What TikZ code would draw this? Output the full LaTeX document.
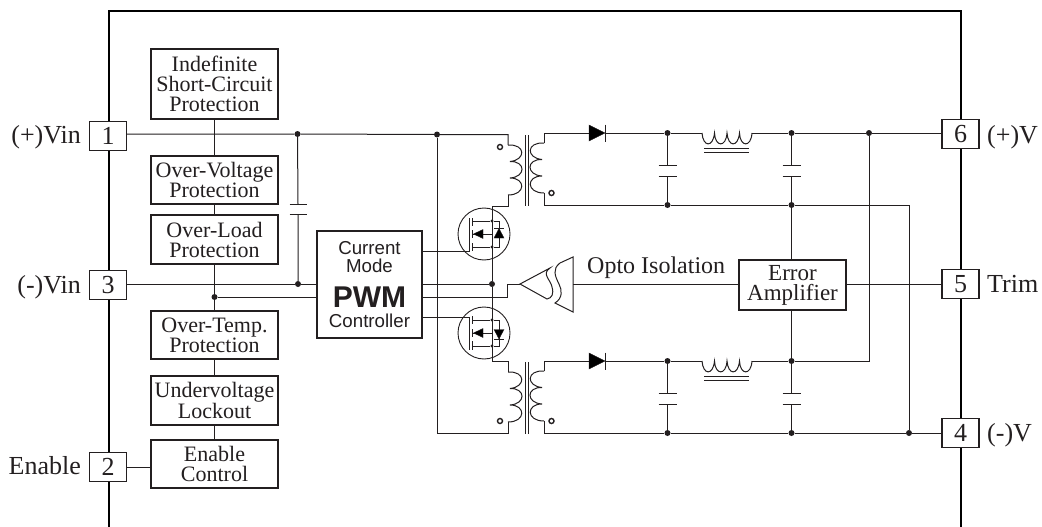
\documentclass[tikz,border=0pt]{standalone}
\usepackage{fontspec}
\setmainfont{Liberation Serif}
\newfontfamily\arialf{Liberation Sans}
\usetikzlibrary{calc}
\definecolor{ink}{HTML}{231F20}
\newcommand{\lbl}{\fontsize{22}{20}\selectfont}
\newcommand{\pinf}{\fontsize{26}{26}\selectfont}
\newcommand{\ctlf}{\arialf\fontsize{18.7}{18}\selectfont}
% three-lobed winding: x, top y, direction
\newcommand{\coilthree}[3]{%
 \draw[wire] (#1,#2) .. controls ({#1+#3*18},{#2-1}) and ({#1+#3*18},{#2+15}) .. ({#1+#3*2},{#2+16.5})
  .. controls ({#1+#3*18},{#2+16}) and ({#1+#3*18},{#2+32}) .. ({#1+#3*2},{#2+33})
  .. controls ({#1+#3*18},{#2+33}) and ({#1+#3*18},{#2+50}) .. (#1,{#2+50});}
\tikzset{x=1pt,y=-1pt,
 ink/.style={draw=ink},
 wire/.style={draw=ink,line width=1pt},
 blk/.style={draw=ink,line width=1.3pt,fill=white,inner sep=0pt,align=center,text=ink,font=\lbl},
 pin/.style={draw=ink,line width=1.3pt,fill=white,inner sep=0pt,minimum width=37pt,minimum height=29pt,text=ink,font=\pinf},
 dot/.style={circle,fill=ink,inner sep=0pt,minimum size=6pt},
 sdot/.style={circle,fill=ink,inner sep=0pt,minimum size=3.4pt},
 ring/.style={circle,draw=ink,line width=1.4pt,fill=white,inner sep=0pt,minimum size=5pt},
 txt/.style={inner sep=0pt,text=ink,font=\pinf},
 mos/.style={circle,draw=ink,line width=0.9pt,inner sep=0pt,minimum size=52pt},
}
\begin{document}
\begin{tikzpicture}
\useasboundingbox (0,0) rectangle (1042,527);
% outer frame
\coordinate (fbl) at (109,527); \coordinate (ftl) at (109,11); \coordinate (ftr) at (961,11); \coordinate (fbr) at (961,527);
\draw[draw=black,line width=2.4pt] (fbl) -- (ftl) -- (ftr) -- (fbr);

% junctions
\node[dot] (j1) at (297.5,134) {};
\node[dot] (j2) at (437,134.5) {};
\node[dot] (j3) at (298,284) {};
\node[dot] (j4) at (214.5,297) {};
\node[dot] (j5) at (492,284) {};
\node[dot] (t1) at (667.5,133) {};
\node[dot] (t2) at (791.5,133) {};
\node[dot] (t3) at (869,133) {};
\node[dot] (m1) at (667.5,205) {};
\node[dot] (m2) at (791.5,205) {};
\node[dot] (u1) at (667.5,361) {};
\node[dot] (u2) at (791.5,361) {};
\node[dot] (b1) at (667.5,433) {};
\node[dot] (b2) at (791.5,433) {};
\node[dot] (b3) at (909,433) {};

% pins
\node[pin] (p1) at (108,136) {1};
\node[pin] (p3) at (108,285) {3};
\node[pin] (p2) at (108,467) {2};
\node[pin] (p6) at (960.5,134) {6};
\node[pin] (p5) at (960.5,284) {5};
\node[pin] (p4) at (960.5,433) {4};
\node[txt,anchor=base east] at (81,143) {(+)Vin};
\node[txt,anchor=base east] at (81,293) {(-)Vin};
\node[txt,anchor=base east] at (81,474) {Enable};
\node[txt,anchor=base west] at (987,143) {(+)V};
\node[txt,anchor=base west] at (987,292) {Trim};
\node[txt,anchor=base west] at (987,441) {(-)V};
\node[txt,anchor=base west,font=\fontsize{24}{24}\selectfont] at (587,273) {Opto Isolation};

% left column wires (drawn below boxes)
\coordinate (cv1) at (214.5,134);
\draw[wire] (214.5,119) -- (cv1);
\draw[wire] (cv1) -- (214.5,156);
\draw[wire] (214.5,204) -- (214.5,215);
\draw[wire] (214.5,264) -- (j4);
\draw[wire] (j4) -- (214.5,311);
\draw[wire] (214.5,359) -- (214.5,376);
\draw[wire] (214.5,425) -- (214.5,440);

% protection boxes
\node[blk,minimum width=127pt,minimum height=70pt] (bi) at (214.5,84) {Indefinite\\Short-Circuit\\Protection};
\node[blk,minimum width=127pt,minimum height=48pt] (bv) at (214.5,180) {Over-Voltage\\Protection};
\node[blk,minimum width=127pt,minimum height=49pt] (bl) at (214.5,239.5) {Over-Load\\Protection};
\node[blk,minimum width=127pt,minimum height=48pt] (bt) at (214.5,335) {Over-Temp.\\Protection};
\node[blk,minimum width=127pt,minimum height=49pt] (bu) at (214.5,400.5) {Undervoltage\\Lockout};
\node[blk,minimum width=127pt,minimum height=48pt] (be) at (214.5,464) {Enable\\Control};
\draw[wire] (p2.east) -- (be.west |- p2.east);

% PWM
\node[blk,minimum width=105pt,minimum height=107pt] (pwm) at (369.5,284.5) {};
\node[txt,font=\ctlf,anchor=base] at (369.5,254) {Current};
\node[txt,font=\ctlf,anchor=base] at (369.5,272) {Mode};
\node[txt,font=\arialf\bfseries\fontsize{30}{30}\selectfont,anchor=base] at (369.5,307) {PWM};
\node[txt,font=\ctlf,anchor=base] at (369.5,327) {Controller};

% error amp
\node[blk,minimum width=107pt,minimum height=50pt,font=\fontsize{23}{20}\selectfont] (ea) at (792.5,285) {Error\\Amplifier};

% top rail etc
\draw[wire] (p1.east |- j1) -- (j1) -- (j2) -- (508,134.5) -- (508,145);
\draw[wire] (p3.east |- j3) -- (j3) -- (317,284);
\draw[wire] (j4) -- (317,297);
\coordinate (c1a) at (298,204); \coordinate (c1b) at (298,214);
\draw[wire] (j1) -- (c1a) (c1b) -- (j3);
\draw[wire] (289.5,204) -- (307,204) (289.5,214) -- (307,214);

% transformers
\coilthree{508}{145}{1}
\coilthree{508}{372}{1}
\coilthree{544}{143}{-1}
\coilthree{544}{371}{-1}
\draw[wire] (525,135) -- (525,206) (528.5,135) -- (528.5,206);
\draw[wire] (525,362) -- (525,433.5) (528.5,362) -- (528.5,433.5);
\node[ring] (r1) at (500,147) {};
\node[ring] (r2) at (551.5,193) {};
\node[ring] (r3) at (500,421) {};
\node[ring] (r4) at (551.5,421) {};

% primary wiring
\coordinate (x1) at (492,206); \coordinate (x2) at (492,361);
\draw[wire] (508,195) -- (508,206) -- (x1) -- (j5) -- (x2) -- (508,361) -- (508,372);
\draw[wire] (j2) -- (437,433) -- (508,433) -- (508,422);

% secondaries
\draw[wire] (544,143) -- (544,133) -- (589,133);
\draw[wire] (605,133) -- (t1) -- (702,133);
\draw[wire] (752,133) -- (t2) -- (t3) -- (p6.west |- t3);
\draw[wire] (544,193) -- (544,205) -- (m1) -- (m2) -- (909,205) -- (b3);
\draw[wire] (544,371) -- (544,361) -- (589,361);
\draw[wire] (605,361) -- (u1) -- (702,361);
\draw[wire] (752,361) -- (u2) -- (869,361) -- (t3);
\draw[wire] (544,421) -- (544,433) -- (b1) -- (b2) -- (b3) -- (p4.west);
\draw[wire] (t2) -- (791.5,165) (791.5,176) -- (m2) -- (ea.north -| m2);
\draw[wire] (ea.south -| u2) -- (u2) -- (791.5,393) (791.5,404) -- (b2);
\draw[wire] (t1) -- (667.5,165) (667.5,176) -- (m1);
\draw[wire] (u1) -- (667.5,393) (667.5,404) -- (b1);
\foreach \cx/\cy in {667.5/165,667.5/176,791.5/165,791.5/176,667.5/393,667.5/404,791.5/393,791.5/404}
  \draw[wire] (\cx-9,\cy) -- (\cx+9,\cy);

% diodes
\foreach \dy in {133,361}{
 \fill[ink] (589,\dy-8) -- (605,\dy) -- (589,\dy+8) -- cycle;
 \draw[ink,line width=1.3pt] (605.5,\dy-8.5) -- (605.5,\dy+8.5);}

% inductors
\foreach \iy in {133,361}{
 \draw[wire] (702,\iy) .. controls (703,\iy+14) and (713,\iy+15) .. (714.5,\iy)
   .. controls (715,\iy+14) and (726,\iy+15) .. (727,\iy)
   .. controls (728,\iy+14) and (738,\iy+15) .. (739.5,\iy)
   .. controls (740,\iy+14) and (751,\iy+15) .. (752,\iy);
 \draw[wire] (704,\iy+15) -- (749,\iy+15) (704,\iy+19) -- (749,\iy+19);}

% MOSFETs
\node[mos] (q1) at (484,234) {};
\node[mos] (q2) at (484,333) {};
\draw[wire] (pwm.east |- 0,251) -- (469.5,251) -- (469.5,218);
\draw[wire] (pwm.east |- 0,317) -- (469.5,317) -- (469.5,350);
\node[sdot] (s1) at (492,221) {};
\node[sdot] (s2) at (492,247) {};
\node[sdot] (s3) at (492,320) {};
\node[sdot] (s4) at (492,346) {};
% top
\draw[wire] (472.5,218) -- (472.5,226) (472.5,230) -- (472.5,238) (472.5,243) -- (472.5,251);
\draw[wire] (472.5,221) -- (s1) -- (499,221) -- (499,247) -- (s2) -- (472.5,247);
\draw[wire] (472.5,234) -- (492,234);
\fill[ink] (473.5,234) -- (483,229.5) -- (483,238.5) -- cycle;
\fill[ink] (499,228.5) -- (494,238) -- (504,238) -- cycle;
\draw[ink,line width=1pt] (494,228) -- (504,228);
% bottom
\draw[wire] (472.5,316) -- (472.5,324) (472.5,329) -- (472.5,337) (472.5,341) -- (472.5,350);
\draw[wire] (472.5,320) -- (s3) -- (499,320) -- (499,346) -- (s4) -- (472.5,346);
\draw[wire] (472.5,333) -- (492,333);
\fill[ink] (473.5,333) -- (483,328.5) -- (483,337.5) -- cycle;
\fill[ink] (499,339) -- (494,329.5) -- (504,329.5) -- cycle;
\draw[ink,line width=1pt] (494,339) -- (504,339);

% opto
\coordinate (otip) at (520,284); \coordinate (orx) at (573,284);
\draw[wire] (pwm.east |- 0,284) -- (j5);
\draw[wire] (pwm.east |- 0,297) -- (507,297) -- (507,284) -- (otip);
\draw[wire] (otip) -- (550,268) .. controls (541,274) and (551,280) .. (552,287) .. controls (554,294) and (552,298) .. (547,299) -- cycle;
\draw[wire] (573,257) -- (573,312) -- (555,303) .. controls (563,298) and (562,290) .. (559,284) .. controls (555,276) and (552,269) .. (560,263) -- cycle;
\draw[wire] (orx) -- (ea.west |- orx);
\draw[wire] (ea.east |- p5.west) -- (p5.west);
\end{tikzpicture}
\end{document}
